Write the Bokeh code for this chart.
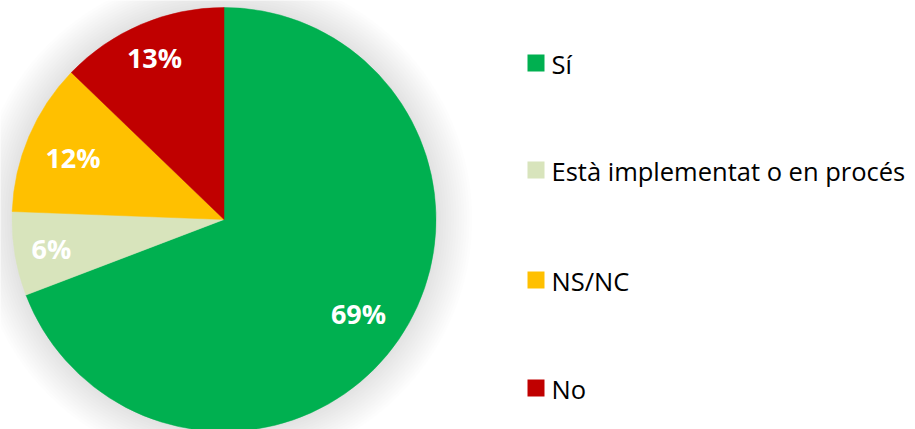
import math
from bokeh.plotting import figure
from bokeh.models import Range1d, ColumnDataSource
from bokeh.core.properties import value
from bokeh.embed import file_html
from bokeh.resources import INLINE

# Data
categories = ["Sí", "Està implementat o en procés", "NS/NC", "No"]
values = [69.2, 6.4, 11.6, 12.8]
labels = ["69%", "6%", "12%", "13%"]
colors = ["#00B050", "#D8E4BC", "#FFC000", "#C00000"]

W, H = 915, 429
p = figure(width=W, height=H, x_range=Range1d(0, W), y_range=Range1d(0, H),
           output_backend="svg", toolbar_location=None, min_border=0)
p.axis.visible = False
p.grid.visible = False
p.outline_line_color = None
p.background_fill_color = "white"
p.border_fill_color = "white"

def fy(screen_y):
    return H - screen_y

def fx(screen_x):
    return screen_x

cx, cy = fx(223.5), fy(219)
R = 212

# soft shadow
for k in range(14, 0, -1):
    p.circle(x=[cx], y=[cy], radius=R + 2.6 * k, radius_units="screen",
             fill_color="black", fill_alpha=0.009, line_color=None)

total = sum(values)
starts, ends = [], []
cum = 0.0
for v in values:
    a0 = math.pi / 2 - 2 * math.pi * cum / total
    cum += v
    a1 = math.pi / 2 - 2 * math.pi * cum / total
    starts.append(a0)
    ends.append(a1)

src = ColumnDataSource(dict(start=starts, end=ends, color=colors))
p.wedge(x=cx, y=cy, radius=R, radius_units="screen", start_angle="start",
        end_angle="end", direction="clock", fill_color="color",
        line_color="color", line_width=0.5, source=src)

label_pos = [(358, 313), (51, 248), (72.5, 157), (154, 57)]
p.text(x=[fx(x) for x, _ in label_pos], y=[fy(y) for _, y in label_pos],
       text=labels, text_color="white", text_font=value("Open Sans"),
       text_font_style="bold", text_font_size="27px", text_align="center",
       text_baseline="middle")

leg_y = [62.5, 169.5, 279.5, 387.5]
p.scatter(x=[fx(535.5)] * 4, y=[fy(y) for y in leg_y], marker="square",
          size=17, fill_color=colors, line_color=None)
p.text(x=[fx(551)] * 4, y=[fy(y + 1) for y in leg_y], text=categories,
       text_color="black", text_font=value("Open Sans"), text_font_size="25.5px",
       text_align="left", text_baseline="middle")

open("out.html", "w").write(file_html(p, INLINE))
